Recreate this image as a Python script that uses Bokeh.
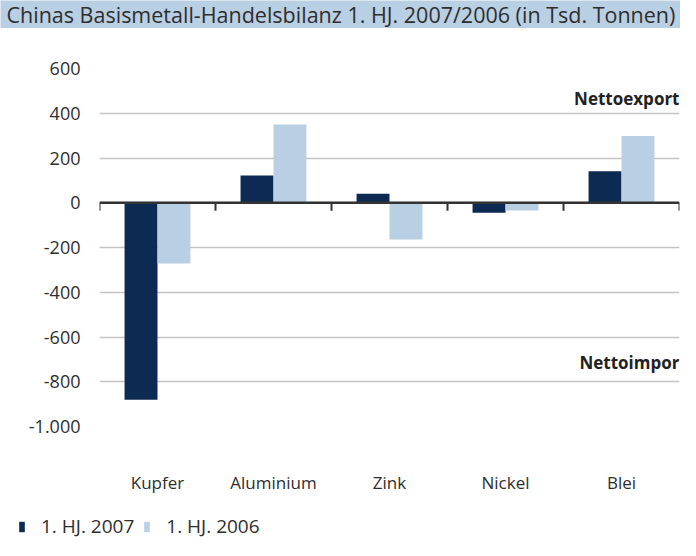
from bokeh.plotting import figure
from bokeh.models import (FactorRange, Range1d, Span, Legend, LegendItem,
                          FixedTicker, ColumnDataSource)
from bokeh.transform import dodge
from bokeh.layouts import column, row
from bokeh.embed import file_html
from bokeh.resources import INLINE
from bokeh.core.properties import value

# ---- data ----
title_text = "Chinas Basismetall-Handelsbilanz 1. HJ. 2007/2006 (in Tsd. Tonnen)"
categories = ["Kupfer", "Aluminium", "Zink", "Nickel", "Blei"]
series_names = ["1. HJ. 2007", "1. HJ. 2006"]
values_2007 = [-880, 122, 40, -45, 141]
values_2006 = [-271, 350, -164, -35, 298]
y_ticks = [-1000, -800, -600, -400, -200, 0, 200, 400, 600]
y_tick_labels = ["-1.000", "-800", "-600", "-400", "-200", "0", "200", "400", "600"]
annot_texts = ["Nettoexport", "Nettoimpor"]
annot_y = [465, -716]

FONT = "Open Sans"
DARK = "#0c2a52"
LIGHT = "#b8cfe4"
TEXT = "#2e2e2e"


def bare(height, **kw):
    f = figure(width=680, height=height, x_range=Range1d(0, 1), y_range=Range1d(0, 1),
               output_backend="svg", toolbar_location=None,
               min_border=0, min_border_left=0, min_border_right=0,
               min_border_top=0, min_border_bottom=0,
               outline_line_color=None, x_axis_type=None, y_axis_type=None, **kw)
    f.grid.visible = False
    return f


# ---- title band ----
tf = bare(28, background_fill_color="#b9cfe3", border_fill_color="#b9cfe3")
tf.text(x=[0], y=[0.5], text=[title_text], x_offset=6,
        text_font=value(FONT), text_font_size="21.5px", text_color=TEXT,
        text_baseline="middle", text_align="left")

# ---- main chart ----
src = ColumnDataSource(dict(cat=categories, v07=values_2007, v06=values_2006))

p = figure(width=680, height=468, x_range=FactorRange(*categories, range_padding=0),
           y_range=Range1d(-1000, 600), output_backend="svg", toolbar_location=None,
           min_border_left=99, min_border_right=1, min_border_top=40,
           min_border_bottom=68, outline_line_color=None)

r07 = p.vbar(x=dodge("cat", -0.142, range=p.x_range), top="v07", width=0.284,
             source=src, fill_color=DARK, line_color=None)
r06 = p.vbar(x=dodge("cat", 0.142, range=p.x_range), top="v06", width=0.284,
             source=src, fill_color=LIGHT, line_color=None)

p.xgrid.visible = False
p.ygrid.ticker = FixedTicker(ticks=y_ticks)
p.ygrid.grid_line_color = "#c4c4c4"
p.ygrid.grid_line_width = 1.5

p.yaxis.ticker = FixedTicker(ticks=y_ticks)
p.yaxis.major_label_overrides = {t: l for t, l in zip(y_ticks, y_tick_labels)}
p.yaxis.axis_line_color = None
p.yaxis.major_tick_line_color = None
p.yaxis.minor_tick_line_color = None
p.yaxis.major_label_standoff = 13
p.yaxis.major_label_text_font = FONT
p.yaxis.major_label_text_font_size = "18px"
p.yaxis.major_label_text_color = TEXT

p.xaxis.axis_line_color = None
p.xaxis.major_tick_line_color = None
p.xaxis.minor_tick_line_color = None
p.xaxis.major_label_standoff = 38
p.xaxis.major_label_text_font = FONT
p.xaxis.major_label_text_font_size = "17px"
p.xaxis.major_label_text_color = TEXT

p.add_layout(Span(location=0, dimension="width", line_color="#333333", line_width=2.5))
bounds = list(range(len(categories) + 1))
p.segment(x0=bounds, x1=bounds, y0=[0] * len(bounds), y1=[-36] * len(bounds),
          line_color="#333333", line_width=2)

p.text(x=[len(categories)] * 2, y=annot_y, text=annot_texts, x_offset=0,
       text_font=value(FONT), text_font_size="17px", text_font_style="bold",
       text_color="#222222", text_align="right", text_baseline="middle")

# ---- legend strip (proxy renderers use the same data, fall outside the strip's range) ----
lf = bare(44, background_fill_color="white", border_fill_color="white")
l07 = lf.vbar(x="v07", top=0, bottom=0, width=0, source=src,
              fill_color=DARK, line_color=None)
l06 = lf.vbar(x="v06", top=0, bottom=0, width=0, source=src,
              fill_color=LIGHT, line_color=None)
legend = Legend(items=[LegendItem(label=series_names[0], renderers=[l07]),
                       LegendItem(label=series_names[1], renderers=[l06])],
                orientation="horizontal", location=(18, 1),
                glyph_width=7, glyph_height=13, label_height=20,
                label_standoff=16, spacing=9, padding=0, margin=0,
                label_text_font=FONT, label_text_font_size="19px",
                label_text_color=TEXT, border_line_color=None,
                background_fill_alpha=0)
lf.add_layout(legend)

layout = column(row(tf), p, row(lf), spacing=0)
open("out.html", "w").write(file_html(layout, INLINE))
